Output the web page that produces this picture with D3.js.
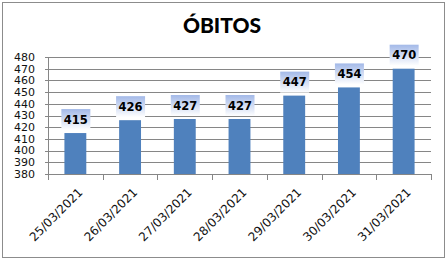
<!DOCTYPE html>
<head>
  <meta charset="utf-8">
  <style>
    body { margin: 0; background: #fff; }
    svg { display: block; }
  </style>
</head>
<svg width="447" height="261"></svg>
<script src="https://d3js.org/d3.v7.min.js"></script>
<script>
  const dates = ["25/03/2021", "26/03/2021", "27/03/2021", "28/03/2021", "29/03/2021", "30/03/2021", "31/03/2021"];
  const obitos = [415, 426, 427, 427, 447, 454, 470];
  const yTicks = [380, 390, 400, 410, 420, 430, 440, 450, 460, 470, 480];

  const margin = { top: 57, right: 16, bottom: 87, left: 48 },
    width = 447 - margin.left - margin.right,
    height = 261 - margin.top - margin.bottom;

  const svg = d3.select("svg");

  // moldura
  svg.append("rect")
    .attr("x", 2.5).attr("y", 2.5)
    .attr("width", 442).attr("height", 255)
    .attr("fill", "#fff")
    .attr("stroke", "#8c8c8c");

  svg.append("text")
    .attr("x", 222).attr("y", 33)
    .attr("text-anchor", "middle")
    .style("font-family", "Lato")
    .style("font-weight", "900")
    .style("font-size", "21px")
    .text("ÓBITOS");

  const defs = svg.append("defs");
  const grad = defs.append("linearGradient")
    .attr("id", "lbl").attr("x1", 0).attr("y1", 0).attr("x2", 0).attr("y2", 1);
  grad.append("stop").attr("offset", "0%").attr("stop-color", "#a3b9e8");
  grad.append("stop").attr("offset", "100%").attr("stop-color", "#ffffff");

  const g = svg.append("g").attr("transform", `translate(${margin.left},${margin.top})`);

  const x = d3.scaleBand().domain(dates).range([0, width]).paddingInner(0.6).paddingOuter(0.3);
  const y = d3.scaleLinear().domain([380, 480]).range([height, 0]);

  // grade
  g.append("g")
    .selectAll("line")
    .data(yTicks)
    .enter().append("line")
    .attr("x1", -3).attr("x2", width)
    .attr("y1", d => Math.round(y(d)) + 0.5)
    .attr("y2", d => Math.round(y(d)) + 0.5)
    .attr("stroke", "#868686");

  g.append("g")
    .selectAll("text")
    .data(yTicks)
    .enter().append("text")
    .attr("x", -13)
    .attr("y", d => y(d))
    .attr("dy", "0.35em")
    .attr("text-anchor", "end")
    .style("font-family", "DejaVu Sans")
    .style("font-size", "11px")
    .style("fill", "#111")
    .text(d => d);

  g.append("line")
    .attr("x1", 0.5).attr("x2", 0.5)
    .attr("y1", 0).attr("y2", height)
    .attr("stroke", "#868686");

  // barras
  g.append("g")
    .selectAll("rect")
    .data(obitos)
    .enter().append("rect")
    .attr("x", (d, i) => x(dates[i]))
    .attr("y", d => y(d))
    .attr("width", x.bandwidth())
    .attr("height", d => height - y(d))
    .attr("fill", "#4f81bd");

  // eixo x
  const step = width / dates.length;
  g.append("g")
    .selectAll("line")
    .data(d3.range(dates.length + 1))
    .enter().append("line")
    .attr("x1", i => Math.round(i * step) + 0.5)
    .attr("x2", i => Math.round(i * step) + 0.5)
    .attr("y1", height).attr("y2", height + 6)
    .attr("stroke", "#868686");

  g.append("line")
    .attr("x1", 0).attr("x2", width)
    .attr("y1", Math.round(height) + 0.5).attr("y2", Math.round(height) + 0.5)
    .attr("stroke", "#868686");

  g.append("g")
    .selectAll("text")
    .data(dates)
    .enter().append("text")
    .attr("transform", d => `translate(${x(d) + x.bandwidth() / 2 + 5},${height + 16}) rotate(-45)`)
    .attr("text-anchor", "end")
    .attr("dy", "0.35em")
    .style("font-family", "DejaVu Sans")
    .style("font-size", "12px")
    .style("fill", "#111")
    .text(d => d);

  // rótulos
  const lbl = g.append("g")
    .selectAll("g")
    .data(obitos)
    .enter().append("g")
    .attr("transform", (d, i) => `translate(${x(dates[i]) + x.bandwidth() / 2},${y(d) - 3})`);

  lbl.append("rect")
    .attr("x", -14).attr("y", -21)
    .attr("width", 29).attr("height", 21)
    .attr("fill", "url(#lbl)");

  lbl.append("text")
    .attr("x", 0.5).attr("y", -10.5)
    .attr("dy", "0.35em")
    .attr("text-anchor", "middle")
    .style("font-family", "DejaVu Sans")
    .style("font-weight", "bold")
    .style("font-size", "11.5px")
    .text(d => d);
</script>
